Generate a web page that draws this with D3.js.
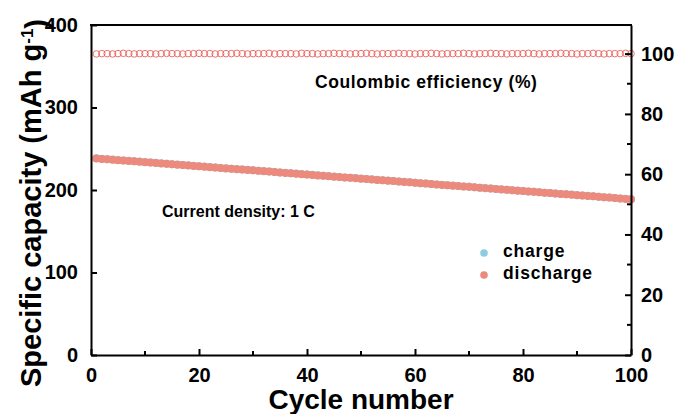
<!DOCTYPE html>
<html>
<head>
<meta charset="utf-8">
<script src="https://cdn.jsdelivr.net/npm/d3@7/dist/d3.min.js"></script>
<style>
  html, body { margin: 0; padding: 0; background: #fff; }
  svg { display: block; font-family: Arial, "Liberation Sans", Helvetica, sans-serif; }
</style>
</head>
<body>
<svg id="chart" width="675" height="414"></svg>
<script>
// Cycle index 1..100
const cycles = d3.range(1, 101);

// Discharge specific capacity (mAh g-1)
const discharge = [
  238.2, 237.6, 237.3, 236.7, 236.2, 235.8, 235.2, 234.8, 234.2, 233.7,
  233.3, 232.7, 232.2, 231.8, 231.1, 230.7, 230.2, 229.8, 229.2, 228.7,
  228.3, 227.7, 227.2, 226.6, 226.2, 225.8, 225.2, 224.7, 224.2, 223.8,
  223.2, 222.7, 222.3, 221.7, 221.2, 220.6, 220.2, 219.7, 219.2, 218.8,
  218.2, 217.7, 217.2, 216.8, 216.2, 215.7, 215.2, 214.7, 214.3, 213.7,
  213.2, 212.8, 212.2, 211.7, 211.2, 210.8, 210.2, 209.7, 209.3, 208.7,
  208.2, 207.8, 207.2, 206.7, 206.2, 205.7, 205.3, 204.7, 204.2, 203.8,
  203.2, 202.7, 202.2, 201.8, 201.2, 200.7, 200.3, 199.7, 199.2, 198.7,
  198.2, 197.8, 197.2, 196.7, 196.3, 195.7, 195.2, 194.8, 194.2, 193.7,
  193.2, 192.7, 192.3, 191.7, 191.2, 190.8, 190.2, 189.7, 189.2, 188.8
];

// Charge specific capacity (mAh g-1)
const charge = [
  238.4, 237.8, 237.4, 236.9, 236.3, 235.9, 235.4, 234.9, 234.4, 233.8,
  233.4, 232.9, 232.3, 231.9, 231.3, 230.8, 230.4, 229.9, 229.3, 228.9,
  228.4, 227.8, 227.4, 226.8, 226.3, 225.9, 225.4, 224.8, 224.4, 223.9,
  223.3, 222.9, 222.4, 221.9, 221.3, 220.8, 220.3, 219.9, 219.3, 218.9,
  218.4, 217.8, 217.4, 216.9, 216.3, 215.9, 215.3, 214.9, 214.4, 213.9,
  213.3, 212.9, 212.4, 211.8, 211.4, 210.9, 210.3, 209.9, 209.4, 208.9,
  208.3, 207.9, 207.4, 206.8, 206.4, 205.9, 205.4, 204.9, 204.3, 203.9,
  203.4, 202.8, 202.4, 201.9, 201.3, 200.9, 200.4, 199.8, 199.4, 198.9,
  198.3, 197.9, 197.4, 196.8, 196.4, 195.9, 195.3, 194.9, 194.4, 193.8,
  193.4, 192.9, 192.4, 191.9, 191.3, 190.9, 190.4, 189.8, 189.4, 188.9
];

// Coulombic efficiency (%)
const efficiency = [
  99.9, 100.0, 100.0, 99.9, 100.0, 100.1, 100.0, 99.9, 100.0, 100.0,
  100.0, 99.9, 100.0, 100.1, 100.0, 100.0, 99.9, 100.0, 100.0, 100.1,
  100.0, 100.0, 99.9, 100.0, 100.0, 100.0, 100.1, 100.0, 99.9, 100.0,
  100.0, 100.0, 100.1, 99.9, 100.0, 100.0, 100.0, 99.9, 100.1, 100.0,
  100.0, 99.9, 100.0, 100.0, 100.1, 100.0, 100.0, 99.9, 100.0, 100.0,
  100.1, 100.0, 99.9, 100.0, 100.0, 100.0, 100.1, 100.0, 100.0, 99.9,
  100.0, 100.0, 100.1, 100.0, 99.9, 100.0, 100.0, 100.0, 100.1, 100.0,
  99.9, 100.0, 100.0, 100.1, 100.0, 100.0, 99.9, 100.0, 100.0, 100.0,
  100.1, 100.0, 99.9, 100.0, 100.0, 100.0, 100.1, 100.0, 100.0, 99.9,
  100.0, 100.0, 100.1, 100.0, 99.9, 100.0, 100.0, 100.0, 100.1, 100.0
];

// Axis tick values
const xMajorTicks = [0, 20, 40, 60, 80, 100];
const xMinorTicks = [10, 30, 50, 70, 90];
const yLeftTicks = [0, 100, 200, 300, 400];
const yRightMajorTicks = [0, 20, 40, 60, 80, 100];
const yRightMinorTicks = [10, 30, 50, 70, 90];

// Series labels
const seriesNames = ["charge", "discharge"];
const seriesColors = ["#8ecde0", "#ec8a7e"];
const ceColor = "#e8615a";

const svg = d3.select("#chart");
const m = { left: 91, right: 631, top: 25, bottom: 355 };

const x = d3.scaleLinear().domain([0, 100]).range([m.left, m.right]);
const yL = d3.scaleLinear().domain([0, 400]).range([m.bottom, m.top]);
const yR = d3.scaleLinear().domain([0, 109.5]).range([m.bottom, m.top]);

const tickFont = "bold 20px Arial, 'Liberation Sans', sans-serif";

// Data layers
const plot = svg.append("g");

plot.append("g").selectAll("circle")
  .data(cycles)
  .join("circle")
  .attr("cx", d => x(d))
  .attr("cy", (d, i) => yR(efficiency[i]))
  .attr("r", 3.3)
  .attr("fill", "none")
  .attr("stroke", ceColor)
  .attr("stroke-width", 0.9);

plot.append("g").selectAll("circle")
  .data(cycles)
  .join("circle")
  .attr("cx", d => x(d))
  .attr("cy", (d, i) => yL(charge[i]))
  .attr("r", 4)
  .attr("fill", seriesColors[0]);

plot.append("g").selectAll("circle")
  .data(cycles)
  .join("circle")
  .attr("cx", d => x(d))
  .attr("cy", (d, i) => yL(discharge[i]))
  .attr("r", 4)
  .attr("fill", seriesColors[1]);

// Axes
function styleAxis(g) {
  g.select(".domain").attr("stroke", "#000").attr("stroke-width", 2);
  g.selectAll(".tick line").attr("stroke", "#000").attr("stroke-width", 2);
  g.selectAll(".tick text").attr("fill", "#000").style("font", tickFont);
}

// bottom axis (ticks pointing inward)
const gx = svg.append("g").attr("transform", `translate(0,${m.bottom})`)
  .call(d3.axisBottom(x).tickValues(xMajorTicks).tickSizeInner(-6).tickSizeOuter(0).tickPadding(13).tickFormat(d3.format("d")));
styleAxis(gx);
gx.append("g").selectAll("line").data(xMinorTicks).join("line")
  .attr("x1", d => x(d)).attr("x2", d => x(d)).attr("y1", 0).attr("y2", -4)
  .attr("stroke", "#000").attr("stroke-width", 2);

// left axis
const gyl = svg.append("g").attr("transform", `translate(${m.left},0)`)
  .call(d3.axisLeft(yL).tickValues(yLeftTicks).tickSizeInner(-6).tickSizeOuter(0).tickPadding(13).tickFormat(d3.format("d")));
styleAxis(gyl);

// right axis
const gyr = svg.append("g").attr("transform", `translate(${m.right},0)`)
  .call(d3.axisRight(yR).tickValues(yRightMajorTicks).tickSizeInner(-6).tickSizeOuter(0).tickPadding(10).tickFormat(d3.format("d")));
styleAxis(gyr);
gyr.append("g").selectAll("line").data(yRightMinorTicks).join("line")
  .attr("x1", 0).attr("x2", -4).attr("y1", d => yR(d)).attr("y2", d => yR(d))
  .attr("stroke", "#000").attr("stroke-width", 2);

// top frame line
svg.append("line")
  .attr("x1", m.left - 1).attr("x2", m.right + 1)
  .attr("y1", m.top).attr("y2", m.top)
  .attr("stroke", "#000").attr("stroke-width", 2);

// Axis titles
svg.append("text")
  .attr("x", (m.left + m.right) / 2).attr("y", 409)
  .attr("text-anchor", "middle")
  .style("font", "bold 28px Arial, 'Liberation Sans', sans-serif")
  .text("Cycle number");

const yTitle = svg.append("text")
  .attr("transform", `translate(41,${(m.top + m.bottom) / 2 + 13}) rotate(-90)`)
  .attr("text-anchor", "middle")
  .style("font", "bold 29px Arial, 'Liberation Sans', sans-serif");
yTitle.append("tspan").text("Specific capacity (mAh g");
yTitle.append("tspan").attr("dy", "-0.45em").style("font-size", "17px").text("-1");
yTitle.append("tspan").attr("dy", "0.45em").text(")");

// Annotations
svg.append("text")
  .attr("x", 315).attr("y", 88)
  .style("font", "bold 17.5px Arial, 'Liberation Sans', sans-serif")
  .style("letter-spacing", "0.6px")
  .text("Coulombic efficiency (%)");

svg.append("text")
  .attr("x", 162).attr("y", 217)
  .style("font", "bold 16px Arial, 'Liberation Sans', sans-serif")
  .text("Current density: 1 C");

// Legend
const legend = svg.append("g");
seriesNames.forEach((name, i) => {
  const cy = 253 + i * 22;
  legend.append("circle").attr("cx", 484).attr("cy", cy).attr("r", 3.8).attr("fill", seriesColors[i]);
  legend.append("text").attr("x", 503).attr("y", cy + 4)
    .style("font", "bold 17.5px Arial, 'Liberation Sans', sans-serif")
    .style("letter-spacing", "0.8px")
    .text(name);
});
</script>
</body>
</html>
